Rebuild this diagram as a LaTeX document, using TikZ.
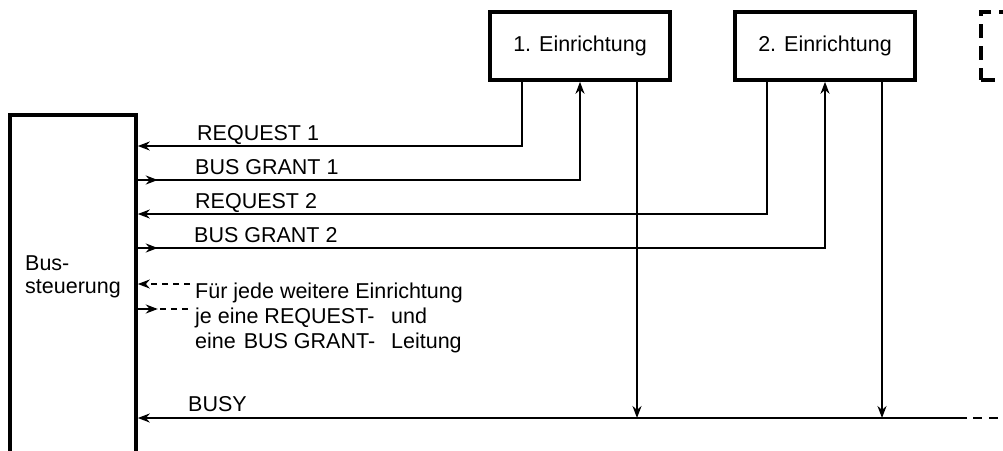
\documentclass[tikz,border=0pt]{standalone}
\usepackage{fontspec}
\setmainfont{Liberation Sans}
\usetikzlibrary{arrows.meta}
\begin{document}
\begin{tikzpicture}[x=1pt,y=-1pt,
  font=\fontsize{21.5}{23}\selectfont,
  box/.style={draw, line width=3.6pt, minimum width=180pt, minimum height=68pt, inner sep=0pt},
  dbox/.style={box, dash pattern=on 14pt off 8pt},
  sig/.style={line width=1.9pt},
  dsig/.style={sig, dash pattern=on 6pt off 5pt},
  tip/.style={-{Stealth[length=12pt,width=9pt]}},
  lbl/.style={inner sep=0pt, anchor=base west}
]
\useasboundingbox (0,0) rectangle (1003,450);
\clip (0,0) rectangle (1003,450);

% bus controller and devices
\node[box, minimum width=126pt, minimum height=380pt] (bs) at (73,305) {};
\node[lbl] (bst) at (25,270) {Bus-};
\node[lbl] (bst2) at (25,293) {steuerung};
\node[box] (e1) at (580,46) {1. Einrichtung};
\node[box] (e2) at (825,46) {2. Einrichtung};
\node[dbox] (e3) at (1071,46) {};

% signal levels
\coordinate (yR1) at (0,146);
\coordinate (yG1) at (0,180);
\coordinate (yR2) at (0,214);
\coordinate (yG2) at (0,248);
\coordinate (d1) at (190,284);
\coordinate (d2) at (190,309);
\coordinate (yB) at (0,418);
\coordinate (busend) at (967,418);

% request and grant lines
\draw[sig,tip] ([xshift=-58pt]e1.south) |- (bs.east |- yR1);
\draw[sig,tip] (bs.east |- yG1) -| (e1.south);
\draw[sig,tip] (bs.east |- yG1) -- ++(20,0);
\draw[sig,tip] ([xshift=-58pt]e2.south) |- (bs.east |- yR2);
\draw[sig,tip] (bs.east |- yG2) -| (e2.south);
\draw[sig,tip] (bs.east |- yG2) -- ++(20,0);

% further devices
\draw[dsig,tip] (d1) -- (bs.east |- d1);
\draw[dsig] (bs.east |- d2) -- (d2);
\draw[sig,tip] (bs.east |- d2) -- ++(20,0);

% busy line
\draw[sig,tip] (busend) -- (bs.east |- yB);
\draw[sig, dash pattern=on 9pt off 7pt] (busend) ++(6,0) -- ++(40,0);
\draw[sig,tip] ([xshift=57pt]e1.south) -- ([xshift=57pt]e1.south |- yB);
\draw[sig,tip] ([xshift=57pt]e2.south) -- ([xshift=57pt]e2.south |- yB);

% labels
\node[lbl] (lR1) at (197,140) {REQUEST 1};
\node[lbl] (lG1) at (195,174) {BUS GRANT 1};
\node[lbl] (lR2) at (195,208) {REQUEST 2};
\node[lbl] (lG2) at (194,242) {BUS GRANT 2};
\node[lbl] (lB) at (188,411) {BUSY};
\node[lbl] (t1) at (195,298) {Für jede weitere Einrichtung};
\node[lbl] (t2) at (195,323) {\makebox[196pt][l]{je eine REQUEST-}und};
\node[lbl] (t3) at (195,348) {\makebox[196pt][l]{eine\hspace{8pt}BUS GRANT-}Leitung};
\end{tikzpicture}
\end{document}
